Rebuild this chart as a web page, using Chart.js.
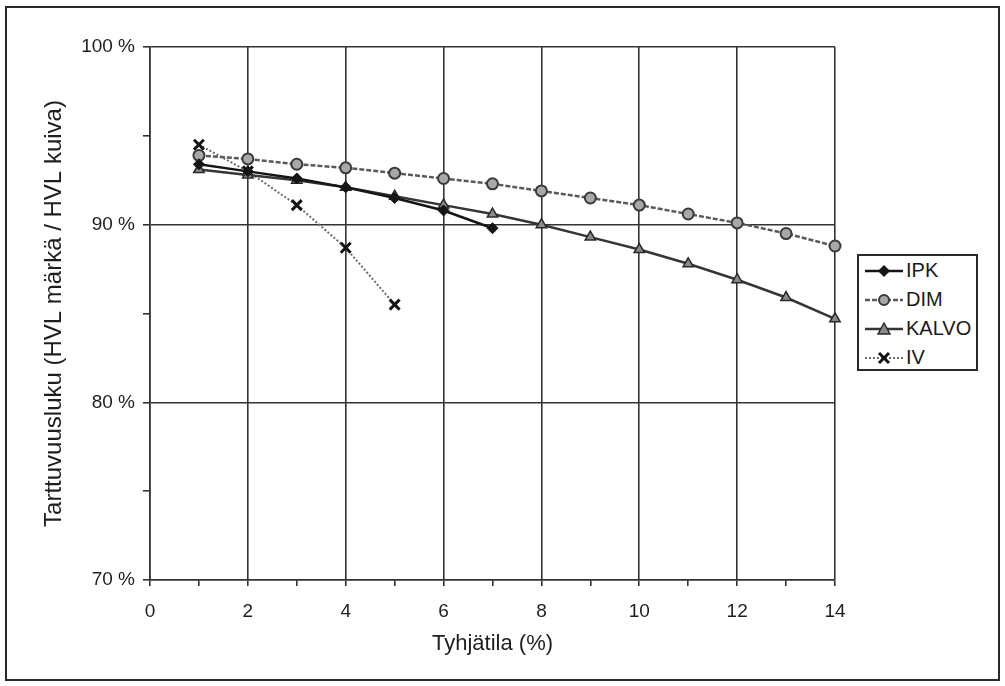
<!DOCTYPE html>
<html>
<head>
<meta charset="utf-8">
<script src="https://cdn.jsdelivr.net/npm/chart.js@4.4.0/dist/chart.umd.min.js"></script>
<style>
html,body{margin:0;padding:0;background:#fff;}
#wrap{position:relative;width:1005px;height:686px;overflow:hidden;}
#frame{position:absolute;left:5px;top:6px;width:991px;height:671px;border:2px solid #2a2a2a;pointer-events:none;}
#legend{position:absolute;left:857px;top:254px;width:121px;height:117px;border:2px solid #2a2a2a;background:#fff;
  font-family:'Liberation Sans',Arial,sans-serif;font-size:20px;color:#1a1a1a;box-sizing:border-box;padding-top:0px;}
.item{height:29px;display:flex;align-items:center;}
.item svg{margin-left:6px;margin-right:3px;}
</style>
</head>
<body>
<div id="wrap">
<canvas id="c" width="1005" height="686"></canvas>
<div id="frame"></div>
<div id="legend"></div>
</div>
<script>
// ---- data ----
const seriesNames = ['IPK', 'DIM', 'KALVO', 'IV'];
const ipkX   = [1, 2, 3, 4, 5, 6, 7];
const ipkY   = [93.4, 93.0, 92.6, 92.1, 91.5, 90.8, 89.8];
const dimX   = [1, 2, 3, 4, 5, 6, 7, 8, 9, 10, 11, 12, 13, 14];
const dimY   = [93.9, 93.7, 93.4, 93.2, 92.9, 92.6, 92.3, 91.9, 91.5, 91.1, 90.6, 90.1, 89.5, 88.8];
const kalvoX = [1, 2, 3, 4, 5, 6, 7, 8, 9, 10, 11, 12, 13, 14];
const kalvoY = [93.1, 92.8, 92.5, 92.1, 91.6, 91.1, 90.6, 90.0, 89.3, 88.6, 87.8, 86.9, 85.9, 84.7];
const ivX    = [1, 2, 3, 4, 5];
const ivY    = [94.5, 93.0, 91.1, 88.7, 85.5];
const xTicks = [0, 2, 4, 6, 8, 10, 12, 14];
const yTicks = [70, 80, 90, 100];
const xTitle = 'Tyhjätila (%)';
const yTitle = 'Tarttuvuusluku (HVL märkä / HVL kuiva)';

const pts = (xs, ys) => xs.map((x, i) => ({x: x, y: ys[i]}));
const FONT = "'Liberation Sans', Arial, sans-serif";
const GRID = '#333';

const styles = [
  {borderColor:'#151515', borderWidth:2.5, borderDash:[], pointStyle:'rectRot', pointRadius:5.5, pointBackgroundColor:'#151515', pointBorderColor:'#151515', pointBorderWidth:1},
  {borderColor:'#5a5a5a', borderWidth:2.5, borderDash:[5,2], pointStyle:'circle', pointRadius:5.5, pointBackgroundColor:'#a8a8a8', pointBorderColor:'#3a3a3a', pointBorderWidth:2},
  {borderColor:'#353535', borderWidth:2.5, borderDash:[], pointStyle:'triangle', pointRadius:6, pointBackgroundColor:'#8a8a8a', pointBorderColor:'#2a2a2a', pointBorderWidth:1.5},
  {borderColor:'#6a6a6a', borderWidth:2, borderDash:[2,2], pointStyle:'crossRot', pointRadius:7, pointBackgroundColor:'#111', pointBorderColor:'#151515', pointBorderWidth:3}
];
const dataSets = [pts(ipkX, ipkY), pts(dimX, dimY), pts(kalvoX, kalvoY), pts(ivX, ivY)];

const chart = new Chart(document.getElementById('c'), {
  type: 'line',
  data: {
    datasets: seriesNames.map((n, i) => Object.assign({label: n, data: dataSets[i], clip: false, tension: 0, fill: false}, styles[i]))
  },
  options: {
    responsive: false,
    animation: false,
    layout: {padding: {left: 0, top: 47, right: 170, bottom: 0}},
    plugins: {legend: {display: false}, tooltip: {enabled: false}},
    scales: {
      x: {
        type: 'linear', min: 0, max: 14,
        afterFit: s => { s.height = 106; },
        afterBuildTicks: s => {
          const t = [];
          for (let v = xTicks[0]; v <= xTicks[xTicks.length-1]; v += 1) t.push({value: v});
          s.ticks = t;
        },
        ticks: {
          autoSkip: false, maxRotation: 0, padding: 14, color: '#1e1e1e',
          font: {family: FONT, size: 19},
          callback: v => xTicks.includes(v) ? String(v) : ''
        },
        grid: {
          color: c => (c.tick && xTicks.includes(c.tick.value)) ? GRID : 'rgba(0,0,0,0)',
          tickColor: GRID, lineWidth: 1.6, tickLength: 6
        },
        border: {color: GRID, width: 1.6},
        title: {display: true, text: xTitle, color: '#1e1e1e', font: {family: FONT, size: 22}, padding: {top: 0, bottom: 29}}
      },
      y: {
        min: 70, max: 100,
        afterFit: s => { s.width = 150; },
        afterBuildTicks: s => {
          const t = [];
          for (let v = yTicks[0]; v <= yTicks[yTicks.length-1]; v += 5) t.push({value: v});
          s.ticks = t;
        },
        ticks: {
          autoSkip: false, padding: 8, color: '#1e1e1e',
          font: {family: FONT, size: 19},
          callback: v => yTicks.includes(v) ? v + ' %' : ''
        },
        grid: {
          color: c => (c.tick && yTicks.includes(c.tick.value)) ? GRID : 'rgba(0,0,0,0)',
          tickColor: GRID, lineWidth: 1.6, tickLength: 7
        },
        border: {color: GRID, width: 1.6},
        title: {display: true, text: yTitle, color: '#1e1e1e', font: {family: FONT, size: 24}, padding: {top: 40, bottom: 0}}
      }
    }
  }
});

// ---- legend (HTML) ----
const legend = document.getElementById('legend');
chart.data.datasets.forEach(ds => {
  const row = document.createElement('div');
  row.className = 'item';
  const dash = (ds.borderDash && ds.borderDash.length) ? ds.borderDash.join(',') : 'none';
  let marker = '';
  const cx = 19, cy = 10;
  if (ds.pointStyle === 'rectRot') marker = `<polygon points="${cx},${cy-6} ${cx+6},${cy} ${cx},${cy+6} ${cx-6},${cy}" fill="${ds.pointBackgroundColor}"/>`;
  else if (ds.pointStyle === 'circle') marker = `<circle cx="${cx}" cy="${cy}" r="5" fill="${ds.pointBackgroundColor}" stroke="${ds.pointBorderColor}" stroke-width="2"/>`;
  else if (ds.pointStyle === 'triangle') marker = `<polygon points="${cx},${cy-6} ${cx+6},${cy+5} ${cx-6},${cy+5}" fill="${ds.pointBackgroundColor}" stroke="${ds.pointBorderColor}" stroke-width="1.5"/>`;
  else marker = `<path d="M${cx-5},${cy-5}L${cx+5},${cy+5}M${cx+5},${cy-5}L${cx-5},${cy+5}" stroke="${ds.pointBorderColor}" stroke-width="3"/>`;
  row.innerHTML = `<svg width="38" height="20"><line x1="0" y1="${cy}" x2="38" y2="${cy}" stroke="${ds.borderColor}" stroke-width="${ds.borderWidth}" stroke-dasharray="${dash}"/>${marker}</svg><span>${ds.label}</span>`;
  legend.appendChild(row);
});
</script>
</body>
</html>
